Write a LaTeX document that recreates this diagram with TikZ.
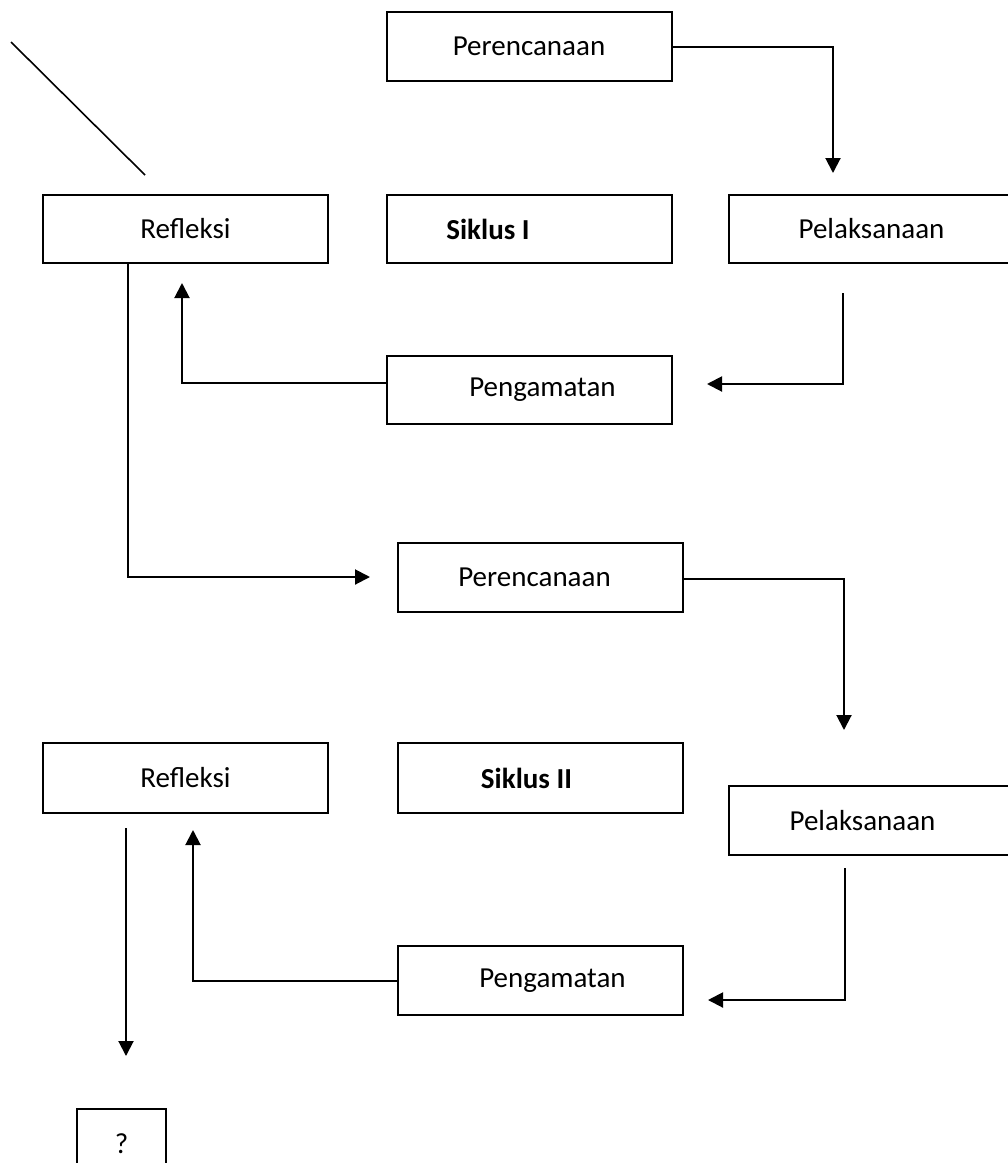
\documentclass[tikz,border=0pt]{standalone}
\usepackage{fontspec}
\setmainfont{Carlito}
\usepackage{tikz}
\usetikzlibrary{positioning, calc, arrows.meta}
\tikzset{box/.style={draw, line width=2pt, minimum width=285pt, minimum height=68pt, inner sep=0pt}}
\tikzset{arr/.style={line width=2pt, -{Triangle[length=15pt, width=15pt]}}}
\tikzset{ln/.style={line width=1.6pt}}

\begin{document}
\begin{tikzpicture}[x=1pt, y=-1pt, font=\fontsize{29}{35}\selectfont]
      \useasboundingbox (0,0) rectangle (1008,1163);
      \clip (0,0) rectangle (1008,1163);

      % siklus I
      \node[box, minimum height=69pt] (rc1) at (529,46.5) {Perencanaan};
      \node[box] (rf1) at (185.5,229) {Refleksi};
      \node[box] (sk1) at (529,229) [label={[xshift=-41pt]center:\textbf{Siklus I}}] {};
      \node[box] (pl1) at (871.5,229) {Pelaksanaan};
      \node[box] (pg1) at (529.5,390) [label={[xshift=13pt]center:Pengamatan}] {};

      % siklus II
      \node[box, minimum height=69pt] (rc2) at (540.5,577.5) [label={[xshift=-6pt]center:Perencanaan}] {};
      \node[box, minimum height=70pt] (rf2) at (185.5,778) {Refleksi};
      \node[box, minimum height=70pt] (sk2) at (540.5,778) [label={[xshift=-14pt]center:\textbf{Siklus II}}] {};
      \node[box, minimum height=69pt] (pl2) at (871.5,820.5) [label={[xshift=-9pt]center:Pelaksanaan}] {};
      \node[box, minimum height=69pt] (pg2) at (540.5,980.5) [label={[xshift=12pt]center:Pengamatan}] {};
      \node[box, minimum width=89pt, minimum height=70pt] (q) at (121.5,1144) {?};

      % free ends
      \coordinate (a1) at (833,173);
      \coordinate (b2) at (843,293);
      \coordinate (a2) at (707,384);
      \coordinate (a3) at (182,283);
      \coordinate (a4) at (370,577);
      \coordinate (a5) at (844,730);
      \coordinate (b6) at (845,868);
      \coordinate (a6) at (708,1000);
      \coordinate (a7) at (193,830);
      \coordinate (b8) at (126,828);
      \coordinate (a8) at (126,1056);
      \coordinate (d1) at (11,42);
      \coordinate (d2) at (145,175);

      \draw[ln] (d1) -- (d2);
      \draw[arr] (rc1.east) -| (a1);
      \draw[arr] (b2) |- (a2);
      \draw[arr] ([yshift=7pt]pg1.west) -| (a3);
      \draw[arr] ([xshift=-58pt]rf1.south) |- (a4);
      \draw[arr] ([yshift=-1pt]rc2.east) -| (a5);
      \draw[arr] (b6) |- (a6);
      \draw[arr] (pg2.west) -| (a7);
      \draw[arr] (b8) -- (a8);
    \end{tikzpicture}
\end{document}
